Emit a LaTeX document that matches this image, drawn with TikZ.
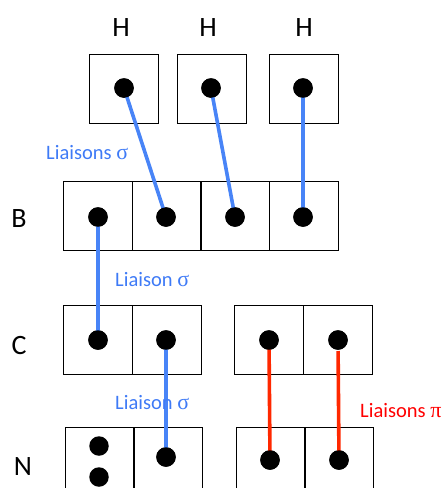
\documentclass[tikz,border=0pt]{standalone}
\usepackage{fontspec}
\setmainfont{Carlito}
\newfontfamily\symfont{Liberation Serif}
\definecolor{bondblue}{RGB}{72,132,247}
\definecolor{txtblue}{RGB}{62,122,246}
\definecolor{bondred}{RGB}{255,40,0}
\definecolor{txtred}{RGB}{255,0,0}
\begin{document}
\begin{tikzpicture}[x=1pt,y=-1pt,
  orb/.style={draw,line width=0.8pt,minimum width=69pt,minimum height=69pt,inner sep=0pt},
  el/.style={circle,fill=black,minimum size=19.5pt,inner sep=0pt},
  atom/.style={font=\fontsize{28}{30}\selectfont,inner sep=0pt},
  lbl/.style={font=\fontsize{20.5}{22}\selectfont,inner sep=0pt,anchor=west},
  sig/.style={line width=3.6pt,draw=bondblue},
  pib/.style={line width=3.6pt,draw=bondred}]
\useasboundingbox (0,0) rectangle (444,488);
\clip (0,0) rectangle (444,488);
% H
\node[atom] (lH1) at (121,28) {H};
\node[atom] (lH2) at (208,28) {H};
\node[atom] (lH3) at (304,28) {H};
\node[orb] (H1) at (123.5,88.5) {};
\node[orb] (H2) at (211.5,88.5) {};
\node[orb] (H3) at (303.5,88.5) {};
\node[el] (h1) at (124,88) {};
\node[el] (h2) at (211,88) {};
\node[el] (h3) at (303,88) {};
% B
\node[atom] (lB) at (19,219) {B};
\node[orb] (B1) at (97.5,216) {};
\node[orb] (B2) at (166.5,216) {};
\node[orb] (B3) at (235,216) {};
\node[orb] (B4) at (303.5,216) {};
\node[el] (b1) at (98,217) {};
\node[el] (b2) at (166,217) {};
\node[el] (b3) at (235,217) {};
\node[el] (b4) at (303,217) {};
% C
\node[atom] (lC) at (19,346) {C};
\node[orb] (C1) at (97.5,340) {};
\node[orb] (C2) at (166.5,340) {};
\node[orb] (C3) at (269,340) {};
\node[orb] (C4) at (337.5,340) {};
\node[el] (c1) at (98,340) {};
\node[el] (c2) at (166,340) {};
\node[el] (c3) at (269,340) {};
\node[el] (c4) at (338,340) {};
% N
\node[atom] (lN) at (23,467) {N};
\node[orb] (N1) at (99.5,461.5) {};
\node[orb] (N2) at (168,461.5) {};
\node[orb] (N3) at (270.5,461.5) {};
\node[orb] (N4) at (339,461.5) {};
\node[el] (n1a) at (99,446) {};
\node[el] (n1b) at (99,477) {};
\node[el] (n2) at (166,457) {};
\node[el] (n3) at (270,460) {};
\node[el] (n4) at (339,460) {};
% bonds
\draw[sig] (h1.center) -- (b2.center);
\draw[sig] (h2.center) -- (b3.center);
\draw[sig] (h3.center) -- (b4.center);
\draw[sig] (b1.center) -- (c1.center);
\draw[sig] (c2.center) -- (n2.center);
\draw[pib] (c3.center) -- (n3.center);
\draw[pib,shorten <=11pt,shorten >=5pt] (c4.center) -- (n4.center);
% redraw dots above bonds
\foreach \d in {h1,h2,h3,b1,b2,b3,b4,c1,c2,c3,c4,n2,n3,n4}
  \fill (\d) circle (9.75pt);
% labels
\node[lbl,text=txtblue] (t1) at (46,153) {Liaisons {\symfont\fontsize{22}{22}\selectfont σ}};
\node[lbl,text=txtblue] (t2) at (115,280) {Liaison {\symfont\fontsize{22}{22}\selectfont σ}};
\node[lbl,text=txtblue] (t3) at (115,403) {Liaison {\symfont\fontsize{22}{22}\selectfont σ}};
\node[lbl,text=txtred] (t4) at (360,411) {Liaisons {\symfont\fontsize{22}{22}\selectfont π}};
\end{tikzpicture}
\end{document}
